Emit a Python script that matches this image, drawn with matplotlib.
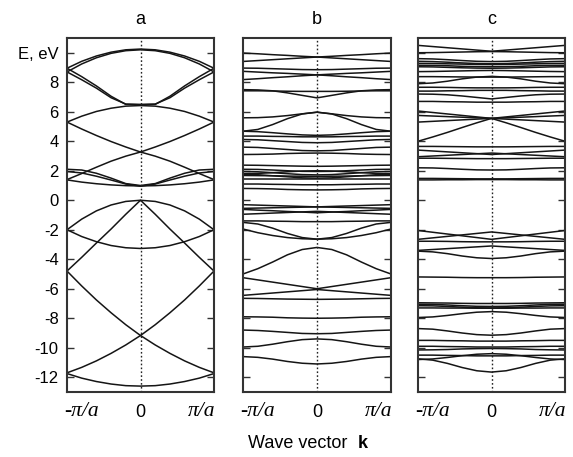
import matplotlib
matplotlib.use("Agg")
import matplotlib.pyplot as plt

plt.rcParams['font.family'] = ['Liberation Sans', 'DejaVu Sans']

# k points (units of pi/a), half zone; bands are symmetric in k
k_half = [0.0, 0.2, 0.4, 0.6, 0.8, 1.0]

# E (eV) read at k_half for each band
bands_a = [
    [10.25, 10.2, 10.04, 9.78, 9.42, 8.95],
    [10.2, 10.14, 9.96, 9.66, 9.24, 8.7],
    [6.5, 6.52, 6.95, 7.6, 8.17, 8.7],
    [6.47, 6.5, 7.05, 7.75, 8.38, 8.95],
    [6.42, 6.38, 6.24, 6.02, 5.7, 5.3],
    [3.27, 3.61, 3.98, 4.39, 4.83, 5.3],
    [3.27, 2.99, 2.65, 2.24, 1.81, 1.4],
    [1.0, 1.13, 1.5, 1.83, 2.05, 2.1],
    [0.95, 1.1, 1.37, 1.63, 1.85, 1.95],
    [0.97, 0.99, 1.04, 1.12, 1.23, 1.38],
    [0.0, -0.08, -0.32, -0.72, -1.28, -2.0],
    [0.0, -0.95, -1.95, -2.9, -3.87, -4.8],
    [-3.27, -3.22, -3.07, -2.81, -2.46, -2.0],
    [-9.17, -8.44, -7.63, -6.76, -5.81, -4.8],
    [-9.17, -9.81, -10.38, -10.89, -11.33, -11.7],
    [-12.6, -12.57, -12.46, -12.29, -12.06, -11.75],
]

bands_b = [
    [9.71, 9.76, 9.82, 9.87, 9.93, 9.98],
    [9.71, 9.65, 9.59, 9.53, 9.47, 9.41],
    [8.85, 8.86, 8.89, 8.92, 8.95, 8.96],
    [8.5, 8.55, 8.6, 8.64, 8.69, 8.74],
    [8.5, 8.44, 8.37, 8.31, 8.24, 8.18],
    [6.94, 7.11, 7.28, 7.42, 7.48, 7.5],
    [7.38, 7.38, 7.39, 7.41, 7.42, 7.42],
    [5.97, 5.86, 5.74, 5.65, 5.6, 5.59],
    [5.97, 5.85, 5.53, 5.13, 4.8, 4.68],
    [4.4, 4.43, 4.5, 4.58, 4.65, 4.68],
    [4.3, 4.3, 4.32, 4.33, 4.35, 4.35],
    [3.9, 3.92, 3.98, 4.04, 4.1, 4.12],
    [3.35, 3.37, 3.44, 3.51, 3.58, 3.6],
    [3.2, 3.19, 3.17, 3.13, 3.11, 3.1],
    [2.3, 2.31, 2.33, 2.35, 2.37, 2.38],
    [1.95, 1.96, 2.0, 2.05, 2.09, 2.1],
    [2.0, 1.98, 1.93, 1.87, 1.82, 1.8],
    [1.72, 1.74, 1.8, 1.87, 1.93, 1.95],
    [1.62, 1.63, 1.64, 1.66, 1.67, 1.68],
    [1.5, 1.52, 1.59, 1.66, 1.73, 1.75],
    [1.42, 1.42, 1.42, 1.42, 1.42, 1.42],
    [1.05, 1.05, 1.07, 1.08, 1.1, 1.1],
    [0.7, 0.71, 0.73, 0.77, 0.79, 0.8],
    [-0.45, -0.42, -0.39, -0.36, -0.33, -0.3],
    [-0.45, -0.47, -0.49, -0.51, -0.53, -0.55],
    [-0.85, -0.8, -0.76, -0.71, -0.67, -0.62],
    [-0.75, -0.79, -0.83, -0.87, -0.91, -0.95],
    [-1.45, -1.45, -1.43, -1.42, -1.4, -1.4],
    [-2.64, -2.53, -2.25, -1.89, -1.61, -1.5],
    [-2.64, -2.61, -2.53, -2.39, -2.2, -1.95],
    [-3.2, -3.34, -3.7, -4.19, -4.64, -5.0],
    [-6.0, -5.85, -5.7, -5.55, -5.4, -5.25],
    [-6.05, -6.13, -6.21, -6.29, -6.37, -6.45],
    [-6.72, -6.71, -6.7, -6.68, -6.66, -6.65],
    [-8.0, -7.99, -7.97, -7.93, -7.91, -7.9],
    [-9.05, -9.03, -8.96, -8.89, -8.83, -8.8],
    [-9.4, -9.45, -9.59, -9.76, -9.9, -9.95],
    [-11.1, -11.05, -10.93, -10.77, -10.65, -10.6],
]

bands_c = [
    [10.1, 10.18, 10.26, 10.34, 10.42, 10.5],
    [10.08, 10.07, 10.05, 10.03, 10.01, 10.0],
    [9.4, 9.42, 9.47, 9.53, 9.58, 9.6],
    [9.25, 9.27, 9.31, 9.36, 9.4, 9.42],
    [9.2, 9.21, 9.23, 9.25, 9.27, 9.28],
    [9.05, 9.06, 9.08, 9.12, 9.14, 9.15],
    [8.95, 8.96, 8.98, 9.01, 9.04, 9.05],
    [8.8, 8.79, 8.77, 8.75, 8.73, 8.72],
    [8.4, 8.35, 8.23, 8.07, 7.95, 7.9],
    [8.35, 8.35, 8.36, 8.37, 8.38, 8.38],
    [7.62, 7.62, 7.63, 7.65, 7.66, 7.66],
    [7.45, 7.45, 7.43, 7.42, 7.4, 7.4],
    [6.87, 6.97, 7.07, 7.15, 7.19, 7.2],
    [6.65, 6.65, 6.67, 6.68, 6.7, 6.7],
    [5.55, 5.65, 5.75, 5.85, 5.95, 6.05],
    [5.55, 5.59, 5.63, 5.67, 5.71, 5.75],
    [5.55, 5.5, 5.45, 5.4, 5.35, 5.3],
    [5.55, 5.25, 4.93, 4.6, 4.29, 4.0],
    [3.62, 3.62, 3.63, 3.64, 3.65, 3.65],
    [3.1, 3.16, 3.22, 3.28, 3.34, 3.4],
    [3.2, 3.15, 3.1, 3.05, 3.0, 2.95],
    [2.82, 2.82, 2.83, 2.84, 2.85, 2.85],
    [2.05, 2.06, 2.1, 2.15, 2.19, 2.2],
    [1.45, 1.45, 1.46, 1.47, 1.48, 1.48],
    [1.4, 1.4, 1.39, 1.39, 1.38, 1.38],
    [-2.65, -2.53, -2.41, -2.29, -2.17, -2.05],
    [-2.15, -2.25, -2.35, -2.45, -2.55, -2.65],
    [-2.82, -2.82, -2.81, -2.79, -2.78, -2.78],
    [-3.1, -3.16, -3.22, -3.28, -3.34, -3.4],
    [-3.95, -3.9, -3.78, -3.62, -3.5, -3.45],
    [-5.25, -5.25, -5.24, -5.22, -5.21, -5.2],
    [-7.0, -7.0, -6.99, -6.97, -6.96, -6.95],
    [-7.2, -7.19, -7.15, -7.1, -7.06, -7.05],
    [-7.3, -7.29, -7.25, -7.2, -7.16, -7.15],
    [-7.32, -7.32, -7.31, -7.31, -7.3, -7.3],
    [-7.55, -7.59, -7.69, -7.81, -7.91, -7.95],
    [-9.15, -9.11, -9.0, -8.86, -8.74, -8.7],
    [-9.55, -9.55, -9.53, -9.52, -9.5, -9.5],
    [-9.95, -9.95, -9.93, -9.92, -9.9, -9.9],
    [-10.05, -10.06, -10.08, -10.12, -10.14, -10.15],
    [-10.55, -10.55, -10.53, -10.52, -10.5, -10.5],
    [-10.4, -10.44, -10.54, -10.66, -10.76, -10.8],
    [-11.65, -11.56, -11.34, -11.06, -10.84, -10.75],
]

panel_titles = ['a', 'b', 'c']
yticks = [-12, -10, -8, -6, -4, -2, 0, 2, 4, 6, 8, 10]
ytick_labels = ['-12', '-10', '-8', '-6', '-4', '-2', '0', '2', '4', '6', '8', 'E, eV']
xtick_labels = ['-\u03c0/a', '0', '\u03c0/a']

W, H = 573, 457
fig = plt.figure(figsize=(W / 100, H / 100), dpi=100)

# pixel boxes of the three panels: left, right
boxes = [(67, 214), (243, 391), (418, 565)]
top, bottom = 38, 392

k_full = [-k for k in k_half[::-1]] + k_half[1:]

for i, (bands, title) in enumerate(zip([bands_a, bands_b, bands_c], panel_titles)):
    l, r = boxes[i]
    ax = fig.add_axes([l / W, 1 - bottom / H, (r - l) / W, (bottom - top) / H])
    for e in bands:
        e_full = e[::-1] + e[1:]
        ax.plot(k_full, e_full, color='#151515', lw=1.1, solid_joinstyle='round')
    ax.axvline(0, color='#222222', lw=1.0, ls=(0, (1.2, 1.6)))
    ax.set_xlim(-1, 1)
    ax.set_ylim(-13, 11)
    ax.set_yticks(yticks)
    ax.tick_params(axis='y', direction='in', length=5, width=1.0, left=True, right=True,
                   labelsize=12, pad=6, color='#333333')
    if i == 0:
        ax.set_yticklabels(ytick_labels)
    else:
        ax.set_yticklabels([])
    ax.set_xticks([-1, 0, 1])
    ax.set_xticklabels([])
    ax.tick_params(axis='x', length=0)
    for sp in ax.spines.values():
        sp.set_linewidth(1.5)
        sp.set_color('#333333')
    # x tick labels
    ax.text(-0.8, -14.3, xtick_labels[0], family='Liberation Serif', style='italic',
            fontsize=15.5, ha='center', va='center')
    ax.text(0, -14.4, xtick_labels[1], fontsize=13, ha='center', va='center')
    ax.text(0.83, -14.3, xtick_labels[2], family='Liberation Serif', style='italic',
            fontsize=15.5, ha='center', va='center')
    fig.text((l + r) / 2 / W, 1 - 20 / H, title, fontsize=13, ha='center', va='center')

fig.text(300 / W, 1 - 443 / H, 'Wave vector ', fontsize=13, ha='center', va='center')
fig.text(363 / W, 1 - 443 / H, 'k', fontsize=13, fontweight='bold', ha='center', va='center')

fig.savefig('out.png', dpi=100, facecolor='white')
